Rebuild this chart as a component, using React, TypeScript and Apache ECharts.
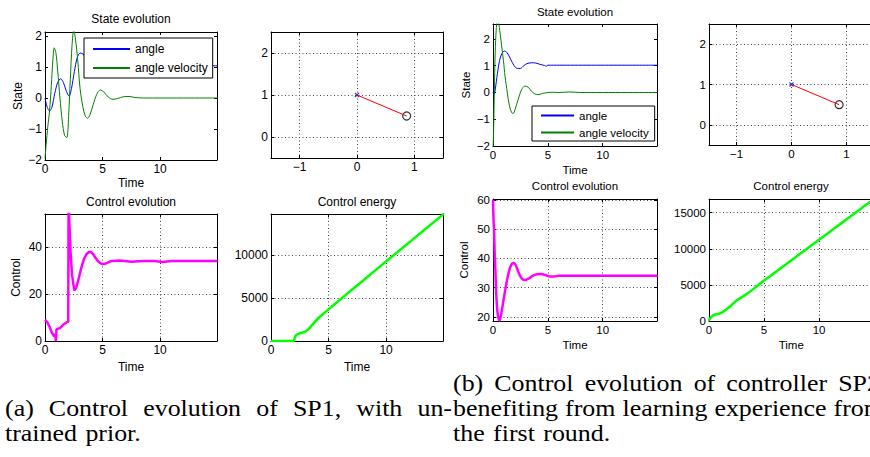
import React, { useEffect, useRef } from 'react';
import * as echarts from 'echarts';

// ---------------- data: (a) SP1, untrained prior ----------------
const tAngleA = [0, 0.2, 0.4, 0.6, 0.85, 1.1, 1.35, 1.6, 1.85, 2.1, 2.3, 2.55, 2.8, 3.05, 3.3, 3.8, 4.3, 4.8, 5.4, 6.0, 6.5, 7.5, 9, 15];
const angleA = [0, -0.3, -0.42, -0.3, 0.15, 0.5, 0.62, 0.5, 0.22, 0.06, 0.3, 0.85, 1.3, 1.45, 1.42, 1.15, 0.88, 0.95, 1.12, 1.06, 1.0, 1.04, 1.04, 1.04];
const tVelA = [0, 0.1, 0.25, 0.4, 0.55, 0.68, 0.8, 0.95, 1.1, 1.3, 1.5, 1.7, 1.9, 2.05, 2.2, 2.35, 2.5, 2.65, 2.85, 3.05, 3.3, 3.5, 3.7, 3.9, 4.2, 4.5, 4.8, 5.1, 5.5, 5.9, 6.3, 6.8, 7.3, 7.8, 8.5, 15];
const velA = [-1.95, -1.5, -0.9, -0.4, 0.4, 1.2, 1.62, 1.45, 0.9, 0.0, -0.75, -1.2, -1.28, -0.6, 0.6, 1.7, 2.2, 1.9, 1.2, 0.3, -0.3, -0.58, -0.65, -0.55, -0.2, 0.12, 0.26, 0.2, 0.03, -0.04, -0.02, 0.04, 0.05, 0.02, 0, 0];
const tCtrlA = [0, 0.2, 0.4, 0.6, 0.8, 0.88, 0.95, 1.0, 1.3, 1.6, 1.9, 2.02, 2.05, 2.12, 2.22, 2.35, 2.55, 2.7, 2.85, 3.0, 3.15, 3.3, 3.45, 3.6, 3.75, 3.9, 4.05, 4.2, 4.4, 4.6, 4.8, 5.0, 5.2, 5.4, 5.6, 5.8, 6.5, 7.5, 8.5, 9.5, 10.2, 11, 12, 15];
const ctrlA = [9, 8, 6, 3.5, 2.0, 3.0, 0, 5, 5.5, 7, 8, 8.2, 62, 50, 38, 28, 21.5, 22.5, 25, 28, 31, 33.5, 35.5, 36.8, 37.6, 38, 37.6, 36.8, 35.3, 34, 33.1, 32.7, 32.8, 33.2, 33.7, 34, 34.2, 33.7, 34, 34, 33.6, 34, 34, 34];
const tEnergyA = [0, 1.95, 2.05, 2.2, 2.5, 2.9, 3.2, 3.6, 4.1, 4.8, 5.5, 6.2, 7, 8.5, 10, 11.5, 13, 14, 15];
const energyA = [0, 0, 300, 700, 900, 1050, 1300, 1900, 2650, 3450, 4250, 5040, 5930, 7590, 9250, 10910, 12570, 13680, 14780];

// ---------------- data: (b) SP2, learned prior ----------------
const tAngleB = [0, 0.1, 0.2, 0.4, 0.6, 0.8, 1.05, 1.3, 1.6, 1.9, 2.2, 2.5, 2.8, 3.1, 3.5, 3.9, 4.3, 4.7, 4.85, 5.0, 5.5, 15];
const angleB = [0, -0.08, 0.1, 0.7, 1.2, 1.45, 1.55, 1.48, 1.25, 1.02, 0.9, 0.9, 1.0, 1.08, 1.11, 1.1, 1.05, 1.01, 0.98, 1.02, 1.02, 1.02];
const tVelB = [0, 0.05, 0.12, 0.2, 0.3, 0.4, 0.5, 0.65, 0.8, 0.95, 1.1, 1.3, 1.5, 1.7, 1.85, 2.0, 2.3, 2.6, 2.9, 3.2, 3.5, 3.8, 4.1, 4.5, 5.0, 5.5, 6.0, 7.0, 8, 15];
const velB = [-2.2, -1.5, 0, 1.5, 2.4, 2.7, 2.65, 2.2, 1.7, 1.2, 0.6, 0, -0.5, -0.75, -0.78, -0.65, -0.25, 0.1, 0.24, 0.2, 0.05, -0.05, -0.08, -0.04, 0.0, 0.01, 0.0, 0.02, 0, 0];
const tCtrlB = [0, 0.05, 0.1, 0.13, 0.17, 0.22, 0.27, 0.32, 0.4, 0.5, 0.6, 0.75, 0.95, 1.2, 1.45, 1.7, 1.9, 2.1, 2.35, 2.6, 2.9, 3.2, 3.6, 4.0, 4.4, 4.8, 5.2, 5.6, 6.0, 7, 15];
const ctrlB = [60, 53, 50, 45, 40, 36, 30, 26, 22, 19.5, 18.8, 21, 25.5, 31, 35.5, 38, 38.4, 37.5, 35, 33.2, 32.6, 33, 34, 34.6, 34.7, 34.3, 33.8, 33.8, 34.1, 34.1, 34.1];
const tEnergyB = [0, 0.1, 0.3, 0.6, 1.0, 1.4, 1.9, 2.5, 3.4, 4.2, 5, 6, 7.5, 9, 10, 11.5, 13, 14, 15];
const energyB = [0, 350, 700, 900, 1050, 1400, 2000, 2850, 3700, 4650, 5600, 6720, 8420, 10120, 11250, 12950, 14650, 15780, 16900];

// ---------------- pendulum snapshot (pivot, bob) ----------------
const rodX = [0, 0.866];
const rodY = [1, 0.5];

// ---------------- texts ----------------
const legendNames = ['angle', 'angle velocity'];
const legendColors = ['#0000ff', '#008000'];
const titlesA = ['State evolution', 'Control evolution', 'Control energy'];
const titlesB = ['State evolution', 'Control evolution', 'Control energy'];
const captionA = ['(a) Control evolution of SP1, with un-', 'trained prior.'];
const captionB = ['(b) Control evolution of controller SP2', 'benefiting from learning experience from', 'the first round.'];

const SANS = 'Liberation Sans';
const SERIF = 'Liberation Serif';

function pairs(xs: number[], ys: number[]) {
  return xs.map((x, i) => [x, ys[i]]);
}

function tickFmt(step: number) {
  return (v: number) => {
    const r = v / step;
    if (Math.abs(r - Math.round(r)) > 1e-6) return '';
    const s = String(Math.round(Math.abs(v) * 1000) / 1000);
    return v < 0 ? '\u2212' + s : s;
  };
}

type Panel = {
  grid: { left: number; top: number; width: number; height: number };
  x: [number, number, number];
  y: [number, number, number];
  dotted: boolean;
  xname?: string;
  xgap?: number;
  yname?: string;
  ygap?: number;
  fs: number;
};

const panels: Panel[] = [
  { grid: { left: 45, top: 32, width: 172, height: 128 }, x: [0, 14.95, 5], y: [-2, 2.13, 1], dotted: false, xname: 'Time', xgap: 17, yname: 'State', ygap: 20, fs: 12 },
  { grid: { left: 271, top: 32, width: 172, height: 126 }, x: [-1.5, 1.5, 1], y: [-0.5, 2.5, 1], dotted: true, fs: 12 },
  { grid: { left: 45, top: 214, width: 172, height: 127 }, x: [0, 14.95, 5], y: [0, 54, 20], dotted: true, xname: 'Time', xgap: 20, yname: 'Control', ygap: 23, fs: 12 },
  { grid: { left: 271, top: 214, width: 172, height: 127 }, x: [0, 14.95, 5], y: [0, 14780, 5000], dotted: true, xname: 'Time', xgap: 20, fs: 12 },
  { grid: { left: 493, top: 24, width: 164, height: 122 }, x: [0, 14.95, 5], y: [-2, 2.56, 1], dotted: false, xname: 'Time', xgap: 18, yname: 'State', ygap: 21, fs: 11.5 },
  { grid: { left: 709, top: 24, width: 165, height: 121 }, x: [-1.5, 1.5, 1], y: [-0.5, 2.5, 1], dotted: true, fs: 11.5 },
  { grid: { left: 493, top: 199, width: 164, height: 122 }, x: [0, 14.95, 5], y: [18.6, 60.3, 10], dotted: true, xname: 'Time', xgap: 18, yname: 'Control', ygap: 23, fs: 11.5 },
  { grid: { left: 709, top: 199, width: 164.5, height: 122 }, x: [0, 14.95, 5], y: [0, 16900, 5000], dotted: true, xname: 'Time', xgap: 18, fs: 11.5 },
];

const titlePos = [
  { x: 131, y: 19, fs: 12 },
  { x: 131, y: 202, fs: 12 },
  { x: 357, y: 202, fs: 12 },
  { x: 575, y: 12, fs: 11.5 },
  { x: 575, y: 186, fs: 11.5 },
  { x: 791, y: 186, fs: 11.5 },
];

const captionLayout = [
  { x0: 5, x1: 452, y: 408, justify: true },
  { x0: 5, x1: 0, y: 433, justify: false },
  { x0: 453, x1: 880, y: 383, justify: true },
  { x0: 453, x1: 884, y: 408, justify: true },
  { x0: 453, x1: 0, y: 433, justify: false },
];

export default function App() {
  const ref = useRef<HTMLDivElement>(null);

  useEffect(() => {
    if (!ref.current) return;
    const chart = echarts.init(ref.current, undefined, { renderer: 'svg' });

    const grid: any[] = [];
    const xAxis: any[] = [];
    const yAxis: any[] = [];
    const idx: { x: number; y: number }[] = [];
    const DOT = { color: '#444', type: [1, 2.5], width: 1 };

    panels.forEach((p, gi) => {
      grid.push({ ...p.grid, containLabel: false, outerBoundsMode: 'none', show: false });
      const tick = { show: true, inside: true, length: 3, lineStyle: { color: '#000', width: 1 } };
      const line = { show: true, onZero: false, lineStyle: { color: '#000', width: 1 } };
      const nameStyle = { color: '#000', fontSize: p.fs, fontFamily: SANS };
      const lab = { show: true, margin: 3, color: '#000', fontSize: p.fs, fontFamily: SANS };
      idx.push({ x: xAxis.length, y: yAxis.length });
      const cx = { type: 'value', gridIndex: gi, min: p.x[0], max: p.x[1], minInterval: p.x[2], maxInterval: p.x[2] };
      const cy = { type: 'value', gridIndex: gi, min: p.y[0], max: p.y[1], minInterval: p.y[2], maxInterval: p.y[2] };
      xAxis.push({
        ...cx, position: 'bottom', axisLine: line, axisTick: tick,
        axisLabel: { ...lab, formatter: tickFmt(p.x[2]) },
        splitLine: { show: p.dotted, lineStyle: DOT },
        name: p.xname || '', nameLocation: 'middle', nameGap: p.xgap || 0, nameTextStyle: nameStyle,
      });
      xAxis.push({ ...cx, position: 'top', axisLine: line, axisTick: tick, axisLabel: { show: false }, splitLine: { show: false } });
      yAxis.push({
        ...cy, position: 'left', axisLine: line, axisTick: tick,
        axisLabel: { ...lab, formatter: tickFmt(p.y[2]) },
        splitLine: { show: p.dotted, lineStyle: DOT },
        name: p.yname || '', nameLocation: 'middle', nameGap: p.ygap || 0, nameRotate: 90, nameTextStyle: nameStyle,
      });
      yAxis.push({ ...cy, position: 'right', axisLine: line, axisTick: tick, axisLabel: { show: false }, splitLine: { show: false } });
    });

    const lineS = (gi: number, name: string, xs: number[], ys: number[], color: string, width: number, smooth: number | boolean) => ({
      type: 'line', name, xAxisIndex: idx[gi].x, yAxisIndex: idx[gi].y,
      data: pairs(xs, ys), symbol: 'none', showSymbol: false, smooth, clip: true,
      lineStyle: { color, width }, itemStyle: { color }, silent: true,
    });

    const pend = (gi: number) => [
      lineS(gi, 'rod' + gi, rodX, rodY, '#ff0000', 1, false),
      {
        type: 'scatter', name: 'pivot' + gi, xAxisIndex: idx[gi].x, yAxisIndex: idx[gi].y,
        data: [[rodX[0], rodY[0]]], symbol: 'path://M0,0L10,10M10,0L0,10', symbolSize: 4,
        itemStyle: { color: 'none', borderColor: '#0000ff', borderWidth: 1.2 }, silent: true,
      },
      {
        type: 'scatter', name: 'bob' + gi, xAxisIndex: idx[gi].x, yAxisIndex: idx[gi].y,
        data: [[rodX[1], rodY[1]]], symbol: 'circle', symbolSize: 8,
        itemStyle: { color: 'rgba(0,0,0,0)', borderColor: '#000', borderWidth: 1.2 }, silent: true,
      },
    ];

    const series: any[] = [
      lineS(0, legendNames[0], tAngleA, angleA, legendColors[0], 1, 0.3),
      lineS(0, legendNames[1], tVelA, velA, legendColors[1], 1, 0.3),
      ...pend(1),
      lineS(2, 'controlA', tCtrlA, ctrlA, '#ff00ff', 2.5, false),
      lineS(3, 'energyA', tEnergyA, energyA, '#00ff00', 2.5, 0.3),
      lineS(4, legendNames[0], tAngleB, angleB, legendColors[0], 1, 0.3),
      lineS(4, legendNames[1], tVelB, velB, legendColors[1], 1, 0.3),
      ...pend(5),
      lineS(6, 'controlB', tCtrlB, ctrlB, '#ff00ff', 2.5, 0.2),
      lineS(7, 'energyB', tEnergyB, energyB, '#00ff00', 2.5, 0.3),
    ];

    // titles
    const graphic: any[] = [];
    const titles = [...titlesA, ...titlesB];
    titles.forEach((t, i) => {
      const tp = titlePos[i];
      graphic.push({
        type: 'text', x: tp.x, y: tp.y, silent: true,
        style: { text: t, fontSize: tp.fs, fontFamily: SANS, fill: '#000', align: 'center', verticalAlign: 'middle' },
      });
    });

    // captions (LaTeX-like, justified word by word)
    const CAP_FS = 24;
    const K = 1.08;
    const ctx = document.createElement('canvas').getContext('2d')!;
    ctx.font = `${CAP_FS}px "${SERIF}"`;
    const capLines = [...captionA, ...captionB];
    capLines.forEach((line, li) => {
      const lay = captionLayout[li];
      const words = line.split(' ');
      const widths = words.map((w) => ctx.measureText(w).width * K);
      const total = widths.reduce((a, b) => a + b, 0);
      const gap = lay.justify && words.length > 1
        ? (lay.x1 - lay.x0 - total) / (words.length - 1)
        : ctx.measureText(' ').width * K * 1.3;
      let x = lay.x0;
      words.forEach((w, wi) => {
        graphic.push({
          type: 'text', x, y: lay.y, scaleX: K, silent: true,
          style: { text: w, fontSize: CAP_FS, fontFamily: SERIF, fill: '#000', align: 'left', verticalAlign: 'middle' },
        });
        x += widths[wi] + gap;
      });
    });

    const legendBase = {
      data: legendNames, orient: 'vertical', selectedMode: false,
      itemStyle: { opacity: 0 },
      borderColor: '#000', borderWidth: 1, borderRadius: 0, backgroundColor: '#fff',
    };

    chart.setOption({
      animation: false,
      backgroundColor: '#fff',
      grid, xAxis, yAxis, series, graphic,
      legend: [
        { ...legendBase, left: 84, top: 38, itemWidth: 37, itemHeight: 12, itemGap: 5, padding: [4, 5, 3, 8],
          textStyle: { color: '#000', fontSize: 12, fontFamily: SANS, lineHeight: 14 } },
        { ...legendBase, left: 532, top: 106, itemWidth: 33, itemHeight: 11, itemGap: 4, padding: [3, 6, 2, 8],
          textStyle: { color: '#000', fontSize: 11.5, fontFamily: SANS, lineHeight: 13 } },
      ],
    });

    return () => chart.dispose();
  }, []);

  return (
    <div
      ref={ref}
      style={{ position: 'fixed', left: 0, top: 0, width: 870, height: 457, background: '#fff' }}
    />
  );
}
